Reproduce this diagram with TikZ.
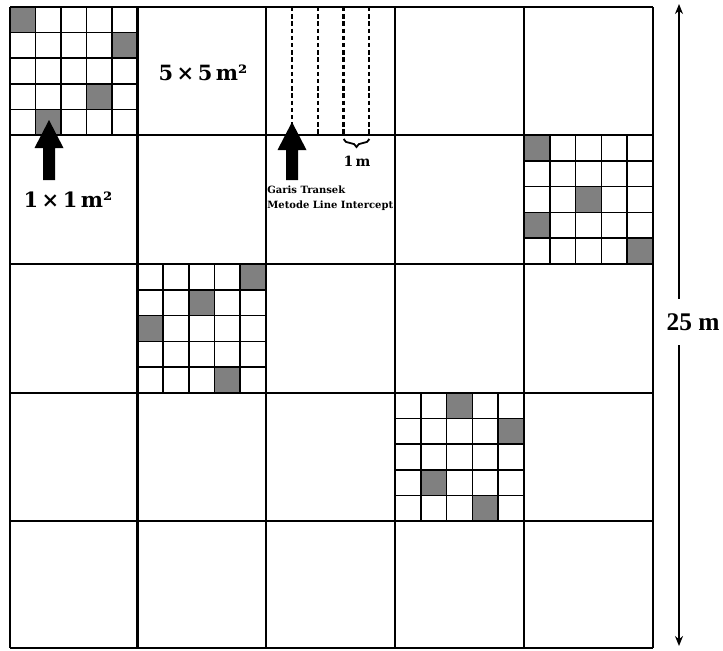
\documentclass[tikz,border=0pt]{standalone}
\usepackage{fontspec}
\newfontfamily\dvs{DejaVu Serif}
\newfontfamily\lsf{Liberation Serif}
\usetikzlibrary{arrows.meta,decorations.pathreplacing}
\tikzset{
  maingrid/.style={line width=1.2pt,black},
  subline/.style={line width=0.85pt,black},
  shadecell/.style={fill=black!50},
  transect/.style={line width=1.1pt,dash pattern=on 2.2pt off 1.4pt},
  blockarrow/.style={fill=black},
  biglabel/.style={font=\dvs\bfseries\fontsize{10.5}{12}\selectfont,inner sep=0pt},
  smalllabel/.style={font=\dvs\bfseries\fontsize{5}{7.4}\selectfont,inner sep=0pt,align=left},
  dimlabel/.style={font=\lsf\bfseries\fontsize{12.7}{14}\selectfont,fill=white,minimum height=23pt,inner sep=1pt}
}
\newcommand\mysubgrid[5]{%
  \pgfmathsetmacro\sdx{(#3-#1)/5}%
  \pgfmathsetmacro\sdy{(#4-#2)/5}%
  \foreach \c/\r in {#5}{\fill[shadecell] ({#1+\c*\sdx},{#2+\r*\sdy}) rectangle ++(\sdx,\sdy);}
  \foreach \i in {1,...,4}{%
    \draw[subline] ({#1+\i*\sdx},#2) -- ({#1+\i*\sdx},#4);
    \draw[subline] (#1,{#2+\i*\sdy}) -- (#3,{#2+\i*\sdy});
  }%
}
\begin{document}
\begin{tikzpicture}[x=0.5pt,y=-0.5pt]
\useasboundingbox[fill=white] (0,0) rectangle (723,650);
% sub grids
\mysubgrid{10}{7}{137.5}{135}{0/0,4/1,3/3,1/4}
\mysubgrid{524}{135}{653}{264}{0/0,2/2,0/3,4/4}
\mysubgrid{137.5}{264}{266}{393}{4/0,2/1,0/2,3/4}
\mysubgrid{395}{393}{524}{521}{2/0,4/1,1/3,3/4}
% transect lines
\foreach \k in {1,...,4}{\draw[transect] ({266+\k*25.8},7) -- ({266+\k*25.8},135);}
% main grid
\foreach \x in {10,137.5,266,395,524,653}{\draw[maingrid] (\x,7) -- (\x,648);}
\foreach \y in {7,135,264,393,521,648}{\draw[maingrid] (10,\y) -- (653,\y);}
% block arrows
\fill[blockarrow] (49,120) -- (63.5,148) -- (55,148) -- (55,180) -- (43,180) -- (43,148) -- (34.5,148) -- cycle;
\fill[blockarrow] (292,122) -- (306.5,150) -- (298,150) -- (298,180) -- (286,180) -- (286,150) -- (277.5,150) -- cycle;
% brace
\coordinate (bl) at (343.6,139);
\coordinate (br) at (369.4,139);
\draw[line width=0.9pt,decorate,decoration={brace,mirror,amplitude=4pt}] (bl) -- (br);
% labels
\node[biglabel] (five) at (203,73) {5\,×\,5\,m²};
\node[biglabel] (one) at (68,200) {1\,×\,1\,m²};
\node[biglabel,font=\dvs\bfseries\fontsize{7}{8}\selectfont] (onem) at (357,161) {1\,m};
\node[smalllabel,anchor=west] (garis) at (267,198) {Garis Transek\\Metode Line Intercept};
% dimension
\coordinate (dtop) at (679,4);
\coordinate (dbot) at (679,646);
\node[dimlabel] (dim) at (693,322) {25 m};
\draw[line width=0.9pt,-{Stealth[length=5pt,width=4pt]}] (dim.north -| dtop) -- (dtop);
\draw[line width=0.9pt,-{Stealth[length=5pt,width=4pt]}] (dim.south -| dbot) -- (dbot);
\end{tikzpicture}
\end{document}
